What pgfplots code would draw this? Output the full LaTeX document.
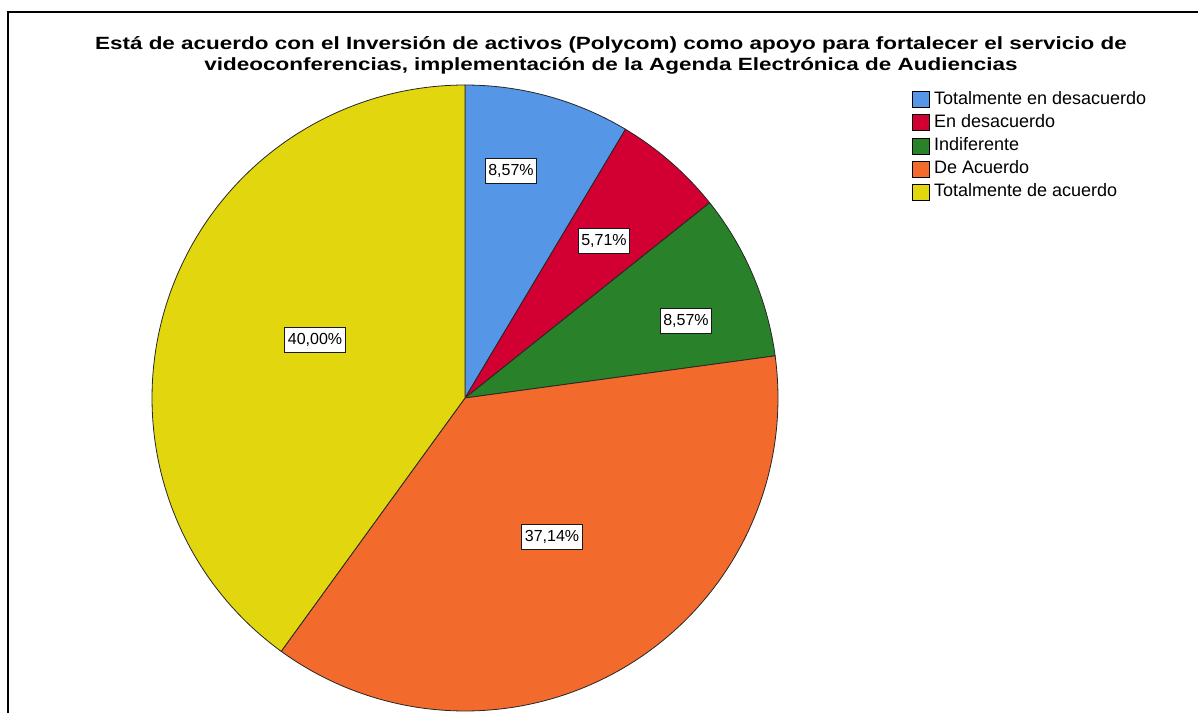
\documentclass[border=0pt]{standalone}
\usepackage{pgfplots}
\pgfplotsset{compat=1.18}
\usepackage{fontspec}
\setmainfont{Liberation Sans}
\definecolor{cblue}{HTML}{5596E6}
\definecolor{cred}{HTML}{D20032}
\definecolor{cgreen}{HTML}{29822A}
\definecolor{corange}{HTML}{F26A2C}
\definecolor{cyellow}{HTML}{E2D70F}
% percentages of the five categories
\def\pA{8.57}\def\pB{5.71}\def\pC{8.57}\def\pD{37.14}\def\pE{40.00}
\pgfmathsetmacro\aA{90}
\pgfmathsetmacro\aB{\aA-3.6*\pA}
\pgfmathsetmacro\aC{\aB-3.6*\pB}
\pgfmathsetmacro\aD{\aC-3.6*\pC}
\pgfmathsetmacro\aE{\aD-3.6*\pD}
\pgfmathsetmacro\aF{\aE-3.6*\pE}
\begin{document}
\begin{tikzpicture}
\useasboundingbox (0,0) rectangle (1198pt,713pt);
\begin{axis}[
  x=1pt, y=1pt, xmin=0, xmax=1198, ymin=0, ymax=713,
  hide axis, anchor=south west, at={(0pt,0pt)}, clip=false,
  legend cell align=left,
  legend style={at={(axis cs:912,622)}, anchor=north west, draw=none, fill=none,
    font=\fontsize{18}{20}\selectfont, row sep=6.2pt, column sep=4pt, inner sep=0pt,
    nodes={inner sep=0pt, text height=13pt, text depth=4pt}},
  legend image code/.code={\draw[#1,draw=black,line width=0.9pt] (0pt,-8pt) rectangle (17pt,8pt);},
]
\addplot[fill=cblue, draw=black!85, line width=0.8pt, domain=\aB:\aA, samples=40, variable=\t]
  ({465+313*cos(t)},{315+313*sin(t)}) -- (axis cs:465,315) -- cycle;
\addlegendentry{Totalmente en desacuerdo}
\addplot[fill=cred, draw=black!85, line width=0.8pt, domain=\aC:\aB, samples=30, variable=\t]
  ({465+313*cos(t)},{315+313*sin(t)}) -- (axis cs:465,315) -- cycle;
\addlegendentry{En desacuerdo}
\addplot[fill=cgreen, draw=black!85, line width=0.8pt, domain=\aD:\aC, samples=40, variable=\t]
  ({465+313*cos(t)},{315+313*sin(t)}) -- (axis cs:465,315) -- cycle;
\addlegendentry{Indiferente}
\addplot[fill=corange, draw=black!85, line width=0.8pt, domain=\aE:\aD, samples=120, variable=\t]
  ({465+313*cos(t)},{315+313*sin(t)}) -- (axis cs:465,315) -- cycle;
\addlegendentry{De Acuerdo}
\addplot[fill=cyellow, draw=black!85, line width=0.8pt, domain=-270:\aE, samples=120, variable=\t]
  ({465+313*cos(t)},{315+313*sin(t)}) -- (axis cs:465,315) -- cycle;
\addlegendentry{Totalmente de acuerdo}

\tikzset{lab/.style={draw=black!90, line width=1pt, fill=white, inner xsep=3pt, inner ysep=0pt,
  minimum height=25pt, font=\fontsize{16}{18}\selectfont}}
\node[lab] at (axis cs:511,542) {8,57\%};
\node[lab] at (axis cs:604,472) {5,71\%};
\node[lab] at (axis cs:686,392) {8,57\%};
\node[lab] at (axis cs:315,373) {40,00\%};
\node[lab] at (axis cs:552,176) {37,14\%};

\node[align=center, font=\bfseries\fontsize{17.7}{21}\selectfont] at (axis cs:611,657.5)
  {\scalebox{1.27}[1]{Está de acuerdo con el Inversión de activos (Polycom) como apoyo para fortalecer el servicio de}\\
   \scalebox{1.27}[1]{videoconferencias, implementación de la Agenda Electrónica de Audiencias}};

\draw[line width=1.5pt] (axis cs:8,0) -- (axis cs:8,701) -- (axis cs:1198,701);
\end{axis}
\end{tikzpicture}
\end{document}
